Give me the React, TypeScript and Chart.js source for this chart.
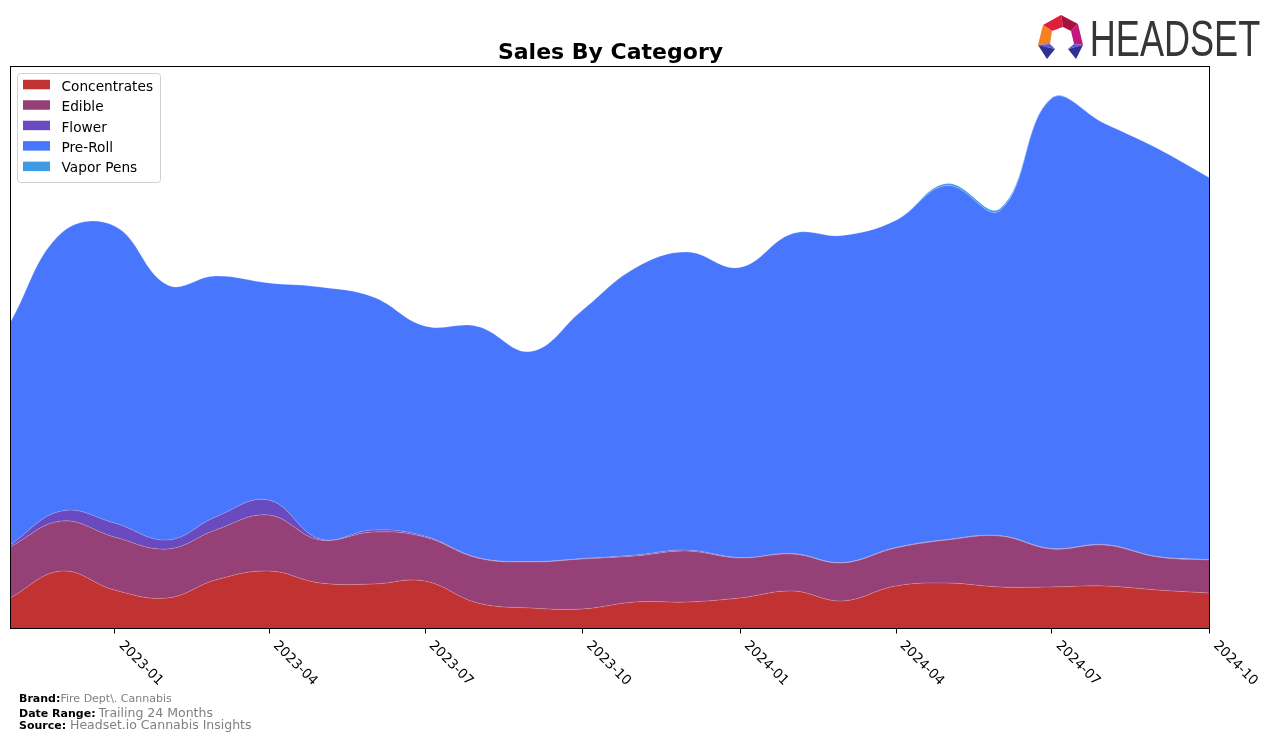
import React, { useEffect, useRef } from 'react';
import { Chart, registerables } from 'chart.js';

Chart.register(...registerables);

const MONTHS = [
  '2022-11', '2022-12', '2023-01', '2023-02', '2023-03', '2023-04', '2023-05', '2023-06',
  '2023-07', '2023-08', '2023-09', '2023-10', '2023-11', '2023-12', '2024-01', '2024-02',
  '2024-03', '2024-04', '2024-05', '2024-06', '2024-07', '2024-08', '2024-09', '2024-10',
];
const CONCENTRATES = [30, 57, 38, 30, 48, 57, 45, 44, 47, 25, 20, 19, 26, 26, 30, 37, 27, 42, 45, 41, 41, 42, 38, 35];
const EDIBLE = [51, 50, 53, 49, 50, 56, 43, 52, 44, 45, 46, 50, 46, 51, 40, 37, 38, 38, 43, 51, 38, 41, 33, 33];
const FLOWER = [2, 10, 14, 9, 13, 15, 1, 2, 1, 0.5, 0.5, 0.5, 1, 1, 0.5, 0.5, 0.5, 0.5, 0.5, 0.5, 0.5, 0.5, 0.5, 0.5];
const PRE_ROLL = [222, 278, 297, 255, 241, 217, 252, 233, 210, 231, 210, 248, 287, 298, 290, 320, 327, 327, 354, 325, 450, 421, 408, 382];
const VAPOR_PENS = [0, 0, 0, 0, 0, 0, 0, 0, 0, 0, 0, 0, 0, 0, 0, 0, 0, 0, 2, 2, 0.5, 0, 0, 0];
const TICK_LABELS = ['2023-01', '2023-04', '2023-07', '2023-10', '2024-01', '2024-04', '2024-07', '2024-10'];
const Y_MAX = 562;

const SERIES_NAMES = ['Concentrates', 'Edible', 'Flower', 'Pre-Roll', 'Vapor Pens'];
const SERIES_VALUES = [CONCENTRATES, EDIBLE, FLOWER, PRE_ROLL, VAPOR_PENS];
const SERIES_COLORS = ['#c13232', '#964078', '#6a4abf', '#4877fe', '#3e9be6'];

const TITLE = 'Sales By Category';
const BRAND = 'Fire Dept\\. Cannabis';
const DATE_RANGE = 'Trailing 24 Months';
const SOURCE = 'Headset.io Cannabis Insights';

const toTs = (m: string) => {
  const [y, mo] = m.split('-').map(Number);
  return Date.UTC(y, mo - 1, 1);
};

const FONT = '"DejaVu Sans", sans-serif';

const decorPlugin = {
  id: 'decor',
  afterDraw(chart: any) {
    const ctx: CanvasRenderingContext2D = chart.ctx;
    const { left, top, right, bottom } = chart.chartArea;
    const xScale = chart.scales.x;
    ctx.save();

    // frame
    ctx.strokeStyle = '#000';
    ctx.lineWidth = 1;
    ctx.strokeRect(left + 0.5, top + 0.5, right - left, bottom - top);

    // title
    ctx.fillStyle = '#000';
    ctx.font = `bold 22px ${FONT}`;
    ctx.textAlign = 'center';
    ctx.textBaseline = 'alphabetic';
    ctx.fillText(TITLE, (left + right) / 2 + 1, 50.5);

    // x ticks and rotated labels
    ctx.textAlign = 'left';
    ctx.font = `13.5px ${FONT}`;
    TICK_LABELS.forEach((lab) => {
      const px = xScale.getPixelForValue(toTs(lab));
      ctx.beginPath();
      ctx.moveTo(Math.round(px) + 0.5, bottom + 0.5);
      ctx.lineTo(Math.round(px) + 0.5, bottom + 5.5);
      ctx.stroke();
      ctx.save();
      ctx.translate(px + 4, bottom + 18);
      ctx.rotate(Math.PI / 4);
      ctx.fillText(lab, 0, 0);
      ctx.restore();
    });

    // legend
    const lx = 9.5, ly = 65.5, lw = 143, lh = 109;
    ctx.beginPath();
    if ((ctx as any).roundRect) (ctx as any).roundRect(lx, ly, lw, lh, 3);
    else ctx.rect(lx, ly, lw, lh);
    ctx.fillStyle = 'rgba(255,255,255,0.8)';
    ctx.fill();
    ctx.strokeStyle = '#d0d0d0';
    ctx.stroke();
    ctx.font = `13.7px ${FONT}`;
    SERIES_NAMES.forEach((name, i) => {
      const base = 82.6 + 20.45 * i;
      ctx.fillStyle = SERIES_COLORS[i];
      ctx.fillRect(15, base - 10.8, 27, 9.5);
      ctx.fillStyle = '#000';
      ctx.fillText(name, 53.5, base);
    });

    // footer
    const footer: [string, string, number, number, number][] = [
      ['Brand:', BRAND, 11, 52.5, 694.3],
      ['Date Range:', DATE_RANGE, 12.5, 90.5, 708.7],
      ['Source:', SOURCE, 12.5, 62, 721],
    ];
    footer.forEach(([lab, val, size, vx, by]) => {
      ctx.font = `bold 11px ${FONT}`;
      ctx.fillStyle = '#000';
      ctx.fillText(lab, 11, by);
      ctx.font = `${size}px ${FONT}`;
      ctx.fillStyle = '#808080';
      ctx.fillText(val, vx, by);
    });

    // logo icon
    const polys: [string, number[][]][] = [
      ['#e0203a', [[1043, 25], [1061, 15], [1063, 27], [1052, 31]]],
      ['#a8123e', [[1061, 15], [1078, 24], [1071, 31], [1063, 27]]],
      ['#c4177f', [[1078, 24], [1083, 45], [1074, 44], [1071, 31]]],
      ['#f58220', [[1043, 25], [1052, 31], [1050, 44], [1038, 45]]],
      ['#5d5bd4', [[1038, 45], [1050, 44], [1055, 49]]],
      ['#2e3192', [[1038, 45], [1055, 49], [1047, 59]]],
      ['#5d5bd4', [[1083, 45], [1074, 44], [1068, 49]]],
      ['#2e3192', [[1083, 45], [1068, 49], [1076, 59]]],
    ];
    polys.forEach(([c, pts]) => {
      ctx.beginPath();
      pts.forEach(([x, y], k) => (k ? ctx.lineTo(x - 8, y - 8) : ctx.moveTo(x - 8, y - 8)));
      ctx.closePath();
      ctx.fillStyle = c;
      ctx.fill();
    });

    // logo text
    ctx.font = `48px "Liberation Sans", Arial, sans-serif`;
    const m = ctx.measureText('HEADSET');
    const inkW = m.actualBoundingBoxRight + m.actualBoundingBoxLeft;
    const sx = 168 / inkW;
    ctx.translate(1092 - 8, 55.5 - 8);
    ctx.scale(sx, 36 / 34.4);
    ctx.fillStyle = '#363636';
    ctx.fillText('HEADSET', m.actualBoundingBoxLeft, 0);

    ctx.restore();
  },
};

export default function App() {
  const ref = useRef<HTMLCanvasElement | null>(null);

  useEffect(() => {
    if (!ref.current) return;
    const xs = MONTHS.map(toTs);
    const chart = new Chart(ref.current, {
      type: 'line',
      data: {
        datasets: SERIES_NAMES.map((name, i) => ({
          label: name,
          data: SERIES_VALUES[i].map((v, k) => ({ x: xs[k], y: v })),
          backgroundColor: SERIES_COLORS[i],
          borderColor: 'rgba(255,255,255,0.25)',
          borderWidth: 0.8,
          pointRadius: 0,
          tension: 0.4,
          fill: i === 0 ? 'origin' : '-1',
        })),
      },
      options: {
        animation: false,
        responsive: false,
        layout: { padding: { left: 2, top: 58, right: 59, bottom: 107 } },
        plugins: { legend: { display: false }, title: { display: false }, tooltip: { enabled: false } },
        scales: {
          x: { type: 'linear', display: false, min: xs[0], max: xs[xs.length - 1] },
          y: { display: false, stacked: true, min: 0, max: Y_MAX },
        },
      },
      plugins: [decorPlugin],
    });
    return () => chart.destroy();
  }, []);

  return (
    <div style={{ position: 'relative', width: 1260, height: 727 }}>
      <canvas ref={ref} width={1260} height={727} style={{ display: 'block', width: 1260, height: 727 }} />
    </div>
  );
}
